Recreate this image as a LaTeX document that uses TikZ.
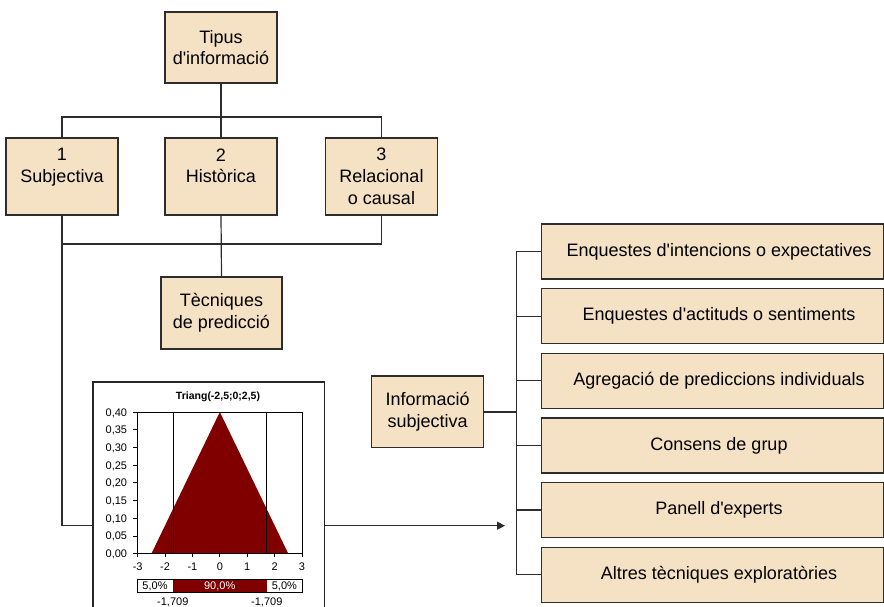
\documentclass[tikz,border=0pt]{standalone}
\usepackage{fontspec}
\setmainfont{Liberation Sans}
\usetikzlibrary{arrows.meta}
\definecolor{boxfill}{RGB}{245,225,196}
\definecolor{edge}{RGB}{45,45,45}
\definecolor{darkred}{RGB}{128,0,0}
\newcommand{\apos}{\textquotesingle}

\begin{document}
\begin{tikzpicture}[x=1pt,y=-1pt,
  card/.style={draw=edge, line width=1.3pt, fill=boxfill, rectangle, inner sep=0pt,
    align=center, font=\fontsize{18}{21.7}\selectfont},
  small/.style={card, minimum width=112pt, minimum height=71pt},
  tall/.style={card, minimum width=112pt, minimum height=77pt},
  option/.style={card, minimum width=341.8pt, minimum height=55pt,
    execute at begin node=\hspace*{12.8pt}},
  link/.style={draw=edge, line width=1.2pt},
  chartframe/.style={draw=black!85, line width=1.2pt, fill=white, rectangle, inner sep=0pt},
  plotline/.style={draw=black, line width=0.9pt},
  axlab/.style={inner sep=0pt, text height=8pt, text depth=0pt, font=\fontsize{11}{13}\selectfont},
]
\useasboundingbox (0,0) rectangle (884,607);

% --- hierarchy of information types
\node[small] (tipus) at (221,47.5) {Tipus\\d\apos informació};
\node[tall] (s1) at (62,176.5) {1\\Subjectiva\\\mbox{}};
\node[tall] (s2) at (221,176.5) {2\\Històrica\\\mbox{}};
\node[tall] (s3) at (381.5,176.5) {3\\Relacional\\o causal};
\node[card, minimum width=121pt, minimum height=72pt] (tec) at (221.5,313) {Tècniques\\de predicció};

\coordinate (topbus) at (221,117);
\coordinate (lowbus) at (221,244);
\draw[link] (tipus.south) -- (topbus);
\draw[link] (s1.north) -- (s1.north |- topbus) -- (s3.north |- topbus) -- (s3.north);
\draw[link] (s2.north) -- (topbus);
\draw[link] (s3.south) -- (s3.south |- lowbus) -- (s1.south |- lowbus);
\draw[link] (s2.south) -- (tec.north);

% --- chart of the triangular distribution
\node[chartframe, minimum width=231.5pt, minimum height=233pt] (chart) at (208.75,498.5) {};
\coordinate (chartin) at ([yshift=-27.2pt]chart.west);
\coordinate (chartout) at ([yshift=-27.2pt]chart.east);
\coordinate (tip) at (505,525.7);
\draw[link] (s1.south) -- (s1.south |- chartin) -- (chartin);
\draw[link, -{Triangle[length=8pt,width=8pt]}] (chartout) -- (tip);

\node[font=\bfseries\fontsize{10.5}{13}\selectfont, inner sep=0pt] (title) at (218,396.7) {Triang(-2,5;0;2,5)};

\begin{scope}[shift={(219.85,553.7)}, x=27.38pt, y=354.25pt]
  \fill[darkred] (-2.5,0) -- (0,0.4) -- (2.5,0) -- cycle;
  \draw[black, line width=0.8pt] (-1.709,0) -- (-1.709,0.4);
  \draw[black, line width=0.8pt] (1.709,0) -- (1.709,0.4);
  \draw[plotline] (-3,0) rectangle (3,0.4);
  \foreach \v/\s [count=\i] in {0/{0,00},0.05/{0,05},0.1/{0,10},0.15/{0,15},0.2/{0,20},0.25/{0,25},0.3/{0,30},0.35/{0,35},0.4/{0,40}}{
    \draw[plotline] (-3,\v) -- ++(-5pt,0);
    \node[axlab, anchor=east] (yl\i) at ([xshift=-10.4pt]-3,\v) {\s};
  }
  \foreach \k [count=\i] in {-3,-2,-1,0,1,2,3}{
    \draw[plotline] (\k,0) -- ++(0,-3.5pt);
    \node[axlab] (xl\i) at ([yshift=-13pt]\k,0) {\k};
  }
\end{scope}

% percentile bar
\fill[white] (137.7,579.3) rectangle (302,592);
\fill[darkred] (172.8,579.3) rectangle (266.7,592);
\draw[plotline] (137.7,579.3) rectangle (302,592);
\node[axlab] (pl) at (155,585.7) {5,0\%};
\node[axlab, text=white] (pm) at (219.7,585.7) {90,0\%};
\node[axlab] (pr) at (284.4,585.7) {5,0\%};
\node[axlab] (ql) at (172.8,601.7) {-1,709};
\node[axlab] (qr) at (266.8,601.7) {-1,709};

% --- subjective information techniques
\node[small, minimum height=71.7pt] (info) at (427.7,411.9) {Informació\\subjectiva};
\coordinate (rbus) at (516.3,0);
\foreach \t [count=\k] in {Enquestes d\apos intencions o expectatives,
  Enquestes d\apos actituds o sentiments, Agregació de prediccions individuals,
  Consens de grup, Panell d\apos experts, Altres tècniques exploratòries}{
  \node[option] (opt\k) at (712.6,{251.5+(\k-1)*64.64}) {\t};
  \draw[link] (opt\k.west) -- (opt\k.west -| rbus);
}
\draw[link] (opt1.west -| rbus) -- (opt6.west -| rbus);
\draw[link] (info.east) -- (info.east -| rbus);
\end{tikzpicture}
\end{document}
